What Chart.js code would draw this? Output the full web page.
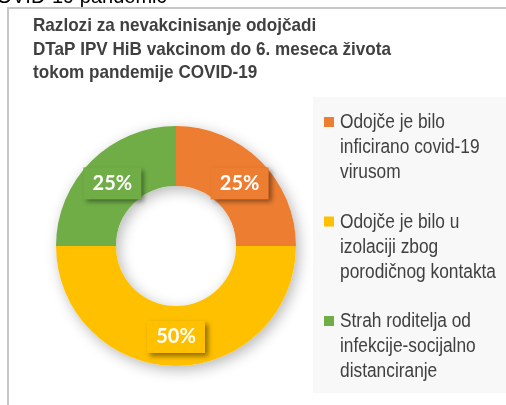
<!DOCTYPE html>
<html>
<head>
<meta charset="utf-8">
<script src="https://cdn.jsdelivr.net/npm/chart.js@4.4.0/dist/chart.umd.min.js"></script>
<style>
    html, body { margin: 0; padding: 0; background: #ffffff; }
    #wrap { position: relative; width: 506px; height: 405px; overflow: hidden; }
    canvas { position: absolute; left: 0; top: 0; }
</style>
</head>
<body>
<div id="wrap"><canvas id="doughnutChart" width="506" height="405"></canvas></div>
<script>
// Chart data
var titleLines = [
    'Razlozi za nevakcinisanje odojčadi',
    'DTaP IPV HiB vakcinom do 6. meseca života',
    'tokom pandemije COVID-19'
];
var categories = [
    ['Odojče je bilo', 'inficirano covid-19', 'virusom'],
    ['Odojče je bilo u', 'izolaciji zbog', 'porodičnog kontakta'],
    ['Strah roditelja od', 'infekcije-socijalno', 'distanciranje']
];
var shares = [25, 50, 25];
var sliceColours = ['#ED7D31', '#FFC000', '#70AD47'];
var textColour = '#404040';

// Draw text squeezed horizontally (the source font is narrower than Arial)
function squeezedText(ctx, text, x, y, scaleX) {
    ctx.save();
    ctx.translate(x, y);
    ctx.scale(scaleX, 1);
    ctx.fillText(text, 0, 0);
    ctx.restore();
}

// Frame, legend panel, clipped caption above the frame
var framePlugin = {
    id: 'frame',
    beforeDraw: function (chart) {
        var ctx = chart.ctx;
        ctx.save();
        ctx.fillStyle = '#f8f8f8';
        ctx.fillRect(313, 97, 193, 296);
        ctx.fillStyle = '#c6c6c6';
        ctx.fillRect(7, 7, 499, 2);
        ctx.fillRect(7, 7, 2, 398);
        ctx.fillStyle = '#000000';
        ctx.font = '20px "Liberation Sans", Arial, sans-serif';
        ctx.textBaseline = 'alphabetic';
        ctx.fillText('COVID-19 pandemic', -18, 3);
        ctx.restore();
    },
    // Soft shadow under the whole ring, drawn once
    beforeDatasetsDraw: function (chart) {
        var arc = chart.getDatasetMeta(0).data[0];
        var ctx = chart.ctx;
        ctx.save();
        ctx.beginPath();
        ctx.arc(arc.x, arc.y, arc.outerRadius, 0, Math.PI * 2);
        ctx.arc(arc.x, arc.y, arc.innerRadius, 0, Math.PI * 2, true);
        ctx.shadowColor = 'rgba(0,0,0,0.28)';
        ctx.shadowBlur = 14;
        ctx.shadowOffsetX = 3;
        ctx.shadowOffsetY = 4;
        ctx.fillStyle = '#ffffff';
        ctx.fill();
        ctx.restore();
    },
    // Percent labels in coloured boxes
    afterDatasetsDraw: function (chart) {
        var ctx = chart.ctx;
        var meta = chart.getDatasetMeta(0);
        meta.data.forEach(function (arc, i) {
            var pos = arc.tooltipPosition();
            var w = 58, h = 32;
            ctx.save();
            ctx.shadowColor = 'rgba(0,0,0,0.45)';
            ctx.shadowBlur = 5;
            ctx.shadowOffsetX = 3;
            ctx.shadowOffsetY = 3;
            ctx.fillStyle = sliceColours[i];
            ctx.fillRect(pos.x - w / 2, pos.y - h / 2 + 1, w, h);
            ctx.restore();
            ctx.save();
            ctx.fillStyle = '#ffffff';
            ctx.font = 'bold 20px Lato, "Open Sans", sans-serif';
            ctx.textAlign = 'center';
            ctx.textBaseline = 'middle';
            ctx.fillText(shares[i] + '%', pos.x, pos.y + 1);
            ctx.restore();
        });
    },
    // Title and legend
    afterDraw: function (chart) {
        var ctx = chart.ctx;
        ctx.save();
        ctx.fillStyle = textColour;
        ctx.textBaseline = 'alphabetic';
        ctx.font = 'bold 19px "Liberation Sans", Arial, sans-serif';
        titleLines.forEach(function (line, i) {
            squeezedText(ctx, line, 33, 31 + i * 23.5, 0.9);
        });

        ctx.font = '20px "Liberation Sans", Arial, sans-serif';
        categories.forEach(function (lines, i) {
            var base = 128 + i * 99.5;
            ctx.fillStyle = sliceColours[i];
            ctx.fillRect(324, base - 11, 10, 10);
            ctx.fillStyle = textColour;
            lines.forEach(function (line, j) {
                squeezedText(ctx, line, 340, base + j * 25, 0.866);
            });
        });
        ctx.restore();
    }
};

var ctx = document.getElementById('doughnutChart');
var myDoughnut = new Chart(ctx, {
    type: 'doughnut',
    data: {
        labels: categories.map(function (c) { return c.join(' '); }),
        datasets: [{
            data: shares,
            backgroundColor: sliceColours,
            borderWidth: 0
        }]
    },
    options: {
        responsive: false,
        animation: false,
        devicePixelRatio: 1,
        cutout: '50%',
        layout: { padding: { left: 56, right: 210, top: 126, bottom: 39 } },
        plugins: {
            legend: { display: false },
            title: { display: false },
            tooltip: { enabled: false }
        }
    },
    plugins: [framePlugin]
});
</script>
</body>
</html>
